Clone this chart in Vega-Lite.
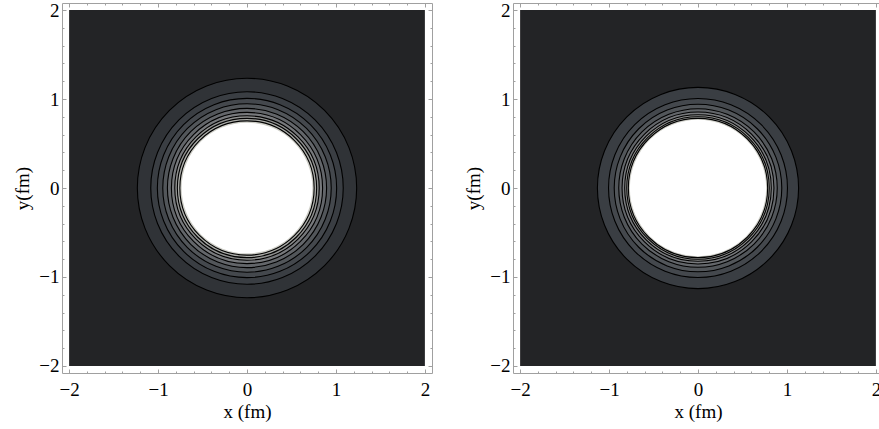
{
  "$schema": "https://vega.github.io/schema/vega-lite/v6.json",
  "padding": {"left": 13, "top": 0, "right": 0, "bottom": 0},
  "background": "white",
  "bounds": "flush",
  "spacing": 81,
  "datasets": {
    "box": [{"x0": -2, "x1": 2, "y0": -2, "y1": 2}],
    "left": [
      {"x": 0, "y": 0, "r": 1.233, "level": 1},
      {"x": 0, "y": 0, "r": 1.082, "level": 2},
      {"x": 0, "y": 0, "r": 1.008, "level": 3},
      {"x": 0, "y": 0, "r": 0.947, "level": 4},
      {"x": 0, "y": 0, "r": 0.895, "level": 5},
      {"x": 0, "y": 0, "r": 0.85, "level": 6},
      {"x": 0, "y": 0, "r": 0.812, "level": 7},
      {"x": 0, "y": 0, "r": 0.783, "level": 8},
      {"x": 0, "y": 0, "r": 0.755, "level": 9},
      {"x": 0, "y": 0, "r": 0.735, "level": 10}
    ],
    "right": [
      {"x": 0, "y": 0, "r": 1.131, "level": 2},
      {"x": 0, "y": 0, "r": 1.006, "level": 3},
      {"x": 0, "y": 0, "r": 0.942, "level": 4},
      {"x": 0, "y": 0, "r": 0.891, "level": 5},
      {"x": 0, "y": 0, "r": 0.854, "level": 6},
      {"x": 0, "y": 0, "r": 0.824, "level": 7},
      {"x": 0, "y": 0, "r": 0.801, "level": 8},
      {"x": 0, "y": 0, "r": 0.783, "level": 9},
      {"x": 0, "y": 0, "r": 0.766, "level": 10}
    ]
  },
  "hconcat": [
    {
      "width": 370, "height": 370,
      "resolve": {"axis": {"x": "independent", "y": "independent"}},
      "layer": [
        {
          "data": {"name": "box"},
          "mark": {"type": "rect", "fill": "#232426"},
          "encoding": {
            "x": {"field": "x0", "type": "quantitative", "scale": {"domain": [-2.08, 2.08], "nice": false, "zero": false},
                  "axis": {"orient": "bottom", "values": [-2, -1, 0, 1, 2], "format": "d", "tickSize": -4, "labelPadding": 11, "title": "x (fm)", "titlePadding": 3}},
            "x2": {"field": "x1"},
            "y": {"field": "y0", "type": "quantitative", "scale": {"domain": [-2.08, 2.08], "nice": false, "zero": false},
                  "axis": {"orient": "left", "values": [-2, -1, 0, 1, 2], "format": "d", "tickSize": -4, "labelPadding": 7, "title": "y(fm)", "titlePadding": 6}},
            "y2": {"field": "y1"}
          }
        },
        {
          "data": {"name": "left"},
          "transform": [{"filter": "datum.level < 10"}],
          "mark": {"type": "circle", "opacity": 1, "strokeWidth": 0},
          "encoding": {
            "x": {"field": "x", "type": "quantitative", "scale": {"domain": [-2.08, 2.08], "nice": false, "zero": false},
                  "axis": {"orient": "bottom", "values": [-2, -1.8, -1.6, -1.4, -1.2, -1, -0.8, -0.6, -0.4, -0.2, 0, 0.2, 0.4, 0.6, 0.8, 1, 1.2, 1.4, 1.6, 1.8, 2], "tickSize": -2, "labels": false, "title": null}},
            "y": {"field": "y", "type": "quantitative", "scale": {"domain": [-2.08, 2.08], "nice": false, "zero": false},
                  "axis": {"orient": "left", "values": [-2, -1.8, -1.6, -1.4, -1.2, -1, -0.8, -0.6, -0.4, -0.2, 0, 0.2, 0.4, 0.6, 0.8, 1, 1.2, 1.4, 1.6, 1.8, 2], "tickSize": -2, "labels": false, "title": null}},
            "size": {"field": "r", "type": "quantitative", "scale": {"type": "pow", "exponent": 2, "domain": [0, 2.08], "range": [0, 136900]}, "legend": null},
            "color": {"field": "level", "type": "ordinal", "scale": {"domain": [1, 2, 3, 4, 5, 6, 7, 8, 9, 10], "range": ["#303337", "#3a3e43", "#44484d", "#52565a", "#63666a", "#77797c", "#8f908f", "#abaca8", "#cdcdc6", "#ffffff"]}, "legend": null},
            "order": {"field": "r", "sort": "descending"}
          }
        },
        {
          "data": {"name": "left"},
          "transform": [{"filter": "datum.level < 10"}],
          "mark": {"type": "point", "shape": "circle", "filled": false, "stroke": "#000000", "strokeWidth": 1.1, "opacity": 1},
          "encoding": {
            "x": {"field": "x", "type": "quantitative", "scale": {"domain": [-2.08, 2.08], "nice": false, "zero": false},
                  "axis": {"orient": "top", "values": [-2, -1, 0, 1, 2], "tickSize": -4, "labels": false, "title": null}},
            "y": {"field": "y", "type": "quantitative", "scale": {"domain": [-2.08, 2.08], "nice": false, "zero": false},
                  "axis": {"orient": "right", "values": [-2, -1, 0, 1, 2], "tickSize": -4, "labels": false, "title": null}},
            "size": {"field": "r", "type": "quantitative", "scale": {"type": "pow", "exponent": 2, "domain": [0, 2.08], "range": [0, 136900]}, "legend": null}
          }
        },
        {
          "data": {"name": "left"},
          "transform": [{"filter": "datum.level == 10"}],
          "mark": {"type": "circle", "opacity": 1, "strokeWidth": 0},
          "encoding": {
            "x": {"field": "x", "type": "quantitative", "scale": {"domain": [-2.08, 2.08], "nice": false, "zero": false},
                  "axis": {"orient": "top", "values": [-2, -1.8, -1.6, -1.4, -1.2, -1, -0.8, -0.6, -0.4, -0.2, 0, 0.2, 0.4, 0.6, 0.8, 1, 1.2, 1.4, 1.6, 1.8, 2], "tickSize": -2, "labels": false, "title": null}},
            "y": {"field": "y", "type": "quantitative", "scale": {"domain": [-2.08, 2.08], "nice": false, "zero": false},
                  "axis": {"orient": "right", "values": [-2, -1.8, -1.6, -1.4, -1.2, -1, -0.8, -0.6, -0.4, -0.2, 0, 0.2, 0.4, 0.6, 0.8, 1, 1.2, 1.4, 1.6, 1.8, 2], "tickSize": -2, "labels": false, "title": null}},
            "size": {"field": "r", "type": "quantitative", "scale": {"type": "pow", "exponent": 2, "domain": [0, 2.08], "range": [0, 136900]}, "legend": null},
            "color": {"field": "level", "type": "ordinal", "scale": {"domain": [1, 2, 3, 4, 5, 6, 7, 8, 9, 10], "range": ["#303337", "#3a3e43", "#44484d", "#52565a", "#63666a", "#77797c", "#8f908f", "#abaca8", "#cdcdc6", "#ffffff"]}, "legend": null}
          }
        }
      ]
    },
    {
      "width": 370, "height": 370,
      "resolve": {"axis": {"x": "independent", "y": "independent"}},
      "layer": [
        {
          "data": {"name": "box"},
          "mark": {"type": "rect", "fill": "#232426"},
          "encoding": {
            "x": {"field": "x0", "type": "quantitative", "scale": {"domain": [-2.08, 2.08], "nice": false, "zero": false},
                  "axis": {"orient": "bottom", "values": [-2, -1, 0, 1, 2], "format": "d", "tickSize": -4, "labelPadding": 11, "title": "x (fm)", "titlePadding": 3}},
            "x2": {"field": "x1"},
            "y": {"field": "y0", "type": "quantitative", "scale": {"domain": [-2.08, 2.08], "nice": false, "zero": false},
                  "axis": {"orient": "left", "values": [-2, -1, 0, 1, 2], "format": "d", "tickSize": -4, "labelPadding": 7, "title": "y(fm)", "titlePadding": 6}},
            "y2": {"field": "y1"}
          }
        },
        {
          "data": {"name": "right"},
          "transform": [{"filter": "datum.level < 10"}],
          "mark": {"type": "circle", "opacity": 1, "strokeWidth": 0},
          "encoding": {
            "x": {"field": "x", "type": "quantitative", "scale": {"domain": [-2.08, 2.08], "nice": false, "zero": false},
                  "axis": {"orient": "bottom", "values": [-2, -1.8, -1.6, -1.4, -1.2, -1, -0.8, -0.6, -0.4, -0.2, 0, 0.2, 0.4, 0.6, 0.8, 1, 1.2, 1.4, 1.6, 1.8, 2], "tickSize": -2, "labels": false, "title": null}},
            "y": {"field": "y", "type": "quantitative", "scale": {"domain": [-2.08, 2.08], "nice": false, "zero": false},
                  "axis": {"orient": "left", "values": [-2, -1.8, -1.6, -1.4, -1.2, -1, -0.8, -0.6, -0.4, -0.2, 0, 0.2, 0.4, 0.6, 0.8, 1, 1.2, 1.4, 1.6, 1.8, 2], "tickSize": -2, "labels": false, "title": null}},
            "size": {"field": "r", "type": "quantitative", "scale": {"type": "pow", "exponent": 2, "domain": [0, 2.08], "range": [0, 136900]}, "legend": null},
            "color": {"field": "level", "type": "ordinal", "scale": {"domain": [1, 2, 3, 4, 5, 6, 7, 8, 9, 10], "range": ["#303337", "#3a3e43", "#44484d", "#52565a", "#63666a", "#77797c", "#8f908f", "#abaca8", "#cdcdc6", "#ffffff"]}, "legend": null},
            "order": {"field": "r", "sort": "descending"}
          }
        },
        {
          "data": {"name": "right"},
          "transform": [{"filter": "datum.level < 10"}],
          "mark": {"type": "point", "shape": "circle", "filled": false, "stroke": "#000000", "strokeWidth": 1.1, "opacity": 1},
          "encoding": {
            "x": {"field": "x", "type": "quantitative", "scale": {"domain": [-2.08, 2.08], "nice": false, "zero": false},
                  "axis": {"orient": "top", "values": [-2, -1, 0, 1, 2], "tickSize": -4, "labels": false, "title": null}},
            "y": {"field": "y", "type": "quantitative", "scale": {"domain": [-2.08, 2.08], "nice": false, "zero": false},
                  "axis": {"orient": "right", "values": [-2, -1, 0, 1, 2], "tickSize": -4, "labels": false, "title": null}},
            "size": {"field": "r", "type": "quantitative", "scale": {"type": "pow", "exponent": 2, "domain": [0, 2.08], "range": [0, 136900]}, "legend": null}
          }
        },
        {
          "data": {"name": "right"},
          "transform": [{"filter": "datum.level == 10"}],
          "mark": {"type": "circle", "opacity": 1, "strokeWidth": 0},
          "encoding": {
            "x": {"field": "x", "type": "quantitative", "scale": {"domain": [-2.08, 2.08], "nice": false, "zero": false},
                  "axis": {"orient": "top", "values": [-2, -1.8, -1.6, -1.4, -1.2, -1, -0.8, -0.6, -0.4, -0.2, 0, 0.2, 0.4, 0.6, 0.8, 1, 1.2, 1.4, 1.6, 1.8, 2], "tickSize": -2, "labels": false, "title": null}},
            "y": {"field": "y", "type": "quantitative", "scale": {"domain": [-2.08, 2.08], "nice": false, "zero": false},
                  "axis": {"orient": "right", "values": [-2, -1.8, -1.6, -1.4, -1.2, -1, -0.8, -0.6, -0.4, -0.2, 0, 0.2, 0.4, 0.6, 0.8, 1, 1.2, 1.4, 1.6, 1.8, 2], "tickSize": -2, "labels": false, "title": null}},
            "size": {"field": "r", "type": "quantitative", "scale": {"type": "pow", "exponent": 2, "domain": [0, 2.08], "range": [0, 136900]}, "legend": null},
            "color": {"field": "level", "type": "ordinal", "scale": {"domain": [1, 2, 3, 4, 5, 6, 7, 8, 9, 10], "range": ["#303337", "#3a3e43", "#44484d", "#52565a", "#63666a", "#77797c", "#8f908f", "#abaca8", "#cdcdc6", "#ffffff"]}, "legend": null}
          }
        }
      ]
    }
  ],
  "config": {
    "view": {"stroke": "#a0a0a0", "strokeWidth": 1},
    "axis": {
      "domain": false, "grid": false,
      "labelFont": "Liberation Serif", "labelFontSize": 19, "labelColor": "#000000",
      "labelFlush": false, "labelOverlap": false,
      "titleFont": "Liberation Serif", "titleFontSize": 19, "titleFontWeight": "normal", "titleColor": "#000000",
      "tickColor": "#a0a0a0", "tickWidth": 1
    }
  }
}
